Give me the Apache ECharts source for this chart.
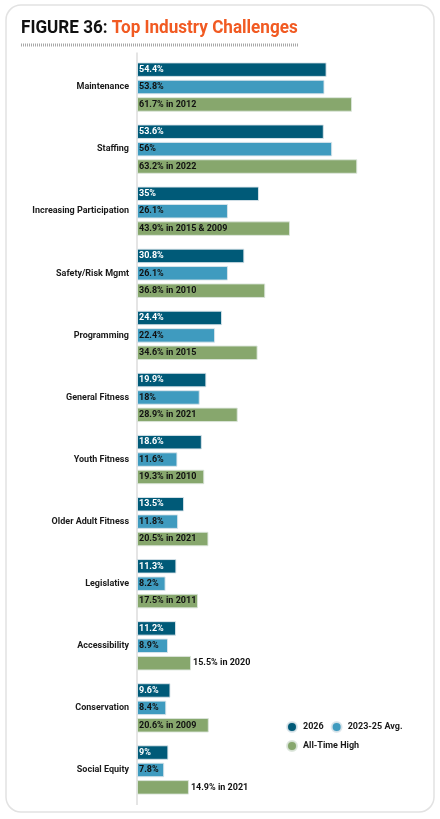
<!DOCTYPE html>
<html>
<head>
<meta charset="utf-8">
<script src="https://cdn.jsdelivr.net/npm/echarts@6/dist/echarts.min.js"></script>
<style>
html,body{margin:0;padding:0;background:#fff;}
#c{width:440px;height:819px;}
</style>
</head>
<body>
<div id="c"></div>
<script>
var categories = ["Maintenance","Staffing","Increasing Participation","Safety/Risk Mgmt","Programming","General Fitness","Youth Fitness","Older Adult Fitness","Legislative","Accessibility","Conservation","Social Equity"];
var values2026 = [54.4,53.6,35,30.8,24.4,19.9,18.6,13.5,11.3,11.2,9.6,9];
var valuesAvg = [53.8,56,26.1,26.1,22.4,18,11.6,11.8,8.2,8.9,8.4,7.8];
var valuesHigh = [61.7,63.2,43.9,36.8,34.6,28.9,19.3,20.5,17.5,15.5,20.6,14.9];
var highYears = ["2012","2022","2015 & 2009","2010","2015","2021","2010","2021","2011","2020","2009","2021"];
var seriesNames = ["2026","2023-25 Avg.","All-Time High"];

var FONT = 'Roboto';
var FS = 9;
var chart = echarts.init(document.getElementById('c'), null, {renderer:'canvas'});

function lbl(color){
  return {show:true, position:'insideLeft', distance:2, color:color, fontFamily:FONT, fontWeight:'bold', fontSize:FS,
    formatter:function(p){return p.value+'%';}};
}

var highData = valuesHigh.map(function(v,i){
  var item = {value:v};
  if (v < 16) { item.label = {position:'right', distance:2}; }
  return item;
});

var option = {
  animation:false,
  backgroundColor:'#fff',
  grid:{left:137, top:56, height:745, width:278.8, containLabel:false},
  xAxis:{type:'value', min:0, max:80, show:false},
  yAxis:{type:'category', data:categories, inverse:true,
    axisLine:{show:false}, axisTick:{show:false},
    axisLabel:{margin:8, color:'#1a1a1a', fontFamily:FONT, fontWeight:'bold', fontSize:FS}},
  legend:{left:281, top:716, width:140, itemWidth:10, itemHeight:10, itemGap:7, icon:'circle',
    textStyle:{fontFamily:FONT, fontWeight:'bold', fontSize:FS, color:'#1a1a1a', padding:[0,0,0,1]},
    data:seriesNames},
  series:[
    {name:seriesNames[0], type:'bar', data:values2026, barWidth:14.5, barGap:'20%', barCategoryGap:'21%',
      itemStyle:{color:'#005a78', borderColor:'rgba(220,230,235,0.9)', borderWidth:1}, label:lbl('#ffffff')},
    {name:seriesNames[1], type:'bar', data:valuesAvg, barWidth:14.5, barGap:'20%',
      itemStyle:{color:'#3f9bbf', borderColor:'rgba(220,230,235,0.9)', borderWidth:1}, label:lbl('#111111')},
    {name:seriesNames[2], type:'bar', data:highData, barWidth:14.5, barGap:'20%',
      itemStyle:{color:'#87a76d', borderColor:'rgba(220,230,220,0.9)', borderWidth:1},
      label:{show:true, position:'insideLeft', distance:2, color:'#111111', fontFamily:FONT, fontWeight:'bold', fontSize:FS,
        formatter:function(p){return p.value+'% in '+highYears[p.dataIndex];}}}
  ],
  graphic:[
    {type:'rect', shape:{x:6, y:5, width:428, height:807, r:15}, style:{fill:'none', stroke:'#e2e2e2', lineWidth:1.5}, z:-1},
    {type:'line', shape:{x1:137, y1:52.5, x2:137, y2:805}, style:{stroke:'#dcdcdc', lineWidth:1.5}, z:-1},
    {type:'line', shape:{x1:21, y1:45, x2:298, y2:45}, style:{stroke:'#a8a8a8', lineWidth:3, lineDash:[1,1]}},
    {type:'text', x:21, y:28.5, scaleX:0.9, style:{
      text:'{a|FIGURE 36: }{b|Top Industry Challenges}', verticalAlign:'middle',
      rich:{a:{fontFamily:FONT, fontWeight:'bold', fontSize:19, fill:'#111'}, b:{fontFamily:FONT, fontWeight:'bold', fontSize:19, fill:'#f15a22'}}}}
  ]
};
chart.setOption(option);
</script>
</body>
</html>
